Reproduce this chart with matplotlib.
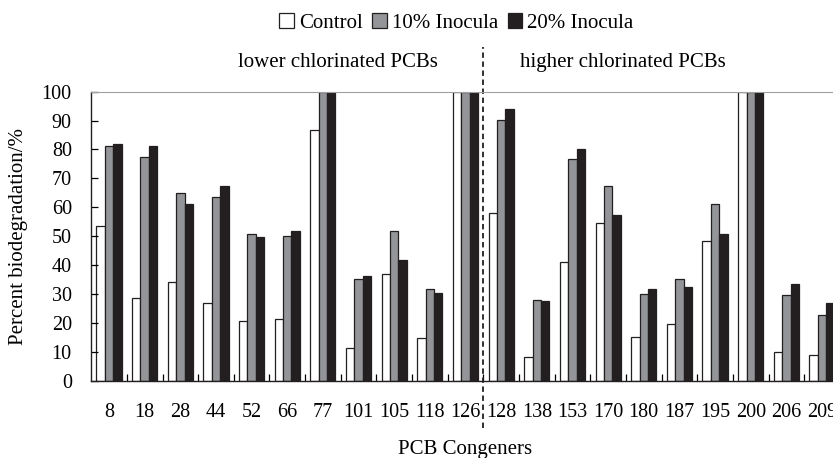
import matplotlib
matplotlib.use("Agg")
from matplotlib import pyplot as plt
from matplotlib.patches import Patch
import numpy as np

congeners = ["8", "18", "28", "44", "52", "66", "77", "101", "105", "118", "126",
             "128", "138", "153", "170", "180", "187", "195", "200", "206", "209"]
control = [53.5, 28.5, 34.2, 26.8, 20.8, 21.3, 86.7, 11.3, 36.9, 14.7, 100,
           57.9, 8.1, 41.2, 54.5, 15.2, 19.6, 48.4, 100, 10.0, 9.0]
inocula10 = [81.3, 77.3, 65.1, 63.4, 50.8, 50.2, 100, 35.1, 51.8, 31.8, 100,
             90.2, 27.9, 76.8, 67.4, 30.1, 35.1, 61.1, 100, 29.5, 22.8]
inocula20 = [81.9, 81.3, 61.3, 67.4, 49.6, 51.8, 100, 36.3, 41.8, 30.2, 100,
             94.0, 27.5, 80.2, 57.4, 31.8, 32.4, 50.8, 100, 33.6, 26.9]
series_names = ["Control", "10% Inocula", "20% Inocula"]
split_after = 11  # number of lower chlorinated congeners

plt.rcParams['font.family'] = ['Liberation Serif', 'DejaVu Serif']

fig = plt.figure(figsize=(8.33, 4.58), dpi=100)
# axes runs a little past the right edge, like the cropped original
ax = fig.add_axes([0.1095, 0.1688, 0.8987, 0.631])

x = np.arange(len(congeners))
w = 0.235
colors = ["white", "#939598", "#231f20"]
for i, vals in enumerate([control, inocula10, inocula20]):
    ax.bar(x + (i - 1) * w, vals, w, color=colors[i], edgecolor="#231f20",
           linewidth=0.9, label=series_names[i])

ax.set_xlim(-0.5, len(congeners) - 0.5)
ax.set_ylim(0, 100)
ax.set_yticks(np.arange(0, 101, 10))
ax.set_xticks(x)
ax.set_xticklabels(congeners)
ax.set_xticks(np.arange(0.5, len(congeners) - 0.5, 1), minor=True)
ax.tick_params(axis="x", which="major", length=0, pad=16, labelsize=14.5)
ax.tick_params(axis="x", which="minor", direction="in", length=5, width=0.9)
ax.tick_params(axis="y", direction="in", length=5, width=0.9, labelsize=14.5, pad=14)

ax.spines["top"].set_color("#a0a0a0")
ax.spines["right"].set_visible(False)
for s in ["left", "bottom"]:
    ax.spines[s].set_linewidth(1.0)
    ax.spines[s].set_color("#231f20")

ax.set_ylabel("Percent biodegradation/%", fontsize=15, labelpad=10)
ax.set_xlabel("PCB Congeners", fontsize=15, labelpad=13)

# dashed divider between the two groups
ax.plot([split_after - 0.5, split_after - 0.5], [-16.5, 115.5], ls=(0, (3, 2)),
        color="#231f20", lw=1.3, clip_on=False)
ax.text(6.43, 110.0, "lower chlorinated PCBs", ha="center", va="center", fontsize=15)
ax.text(14.4, 110.0, "higher chlorinated PCBs", ha="center", va="center", fontsize=15)

handles = [Patch(facecolor=c, edgecolor="#231f20", linewidth=0.9) for c in colors]
fig.legend(handles, series_names, loc="center", bbox_to_anchor=(0.548, 0.95),
           ncol=3, frameon=False, fontsize=15, handlelength=0.7, handleheight=0.7,
           handletextpad=0.25, columnspacing=0.45, borderpad=0)

fig.savefig("out.png", dpi=100)
